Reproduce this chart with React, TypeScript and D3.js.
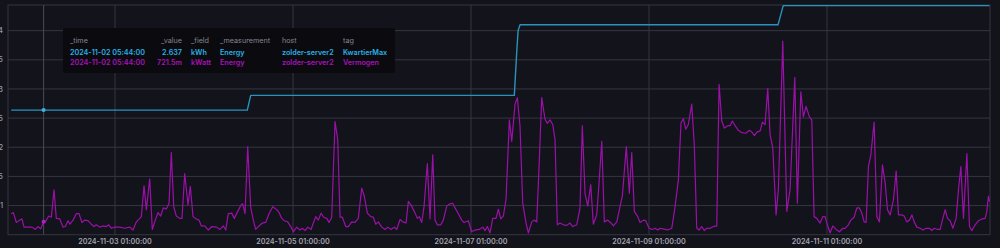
import React from "react";
import * as d3 from "d3";

// ---- Data (hours since 2024-11-01 21:00 UTC) ----
const START = Date.UTC(2024, 10, 1, 21, 0);

const kwartierHours = [0, 63.67, 64.59, 135.68, 136.3, 136.7, 137.22, 206.8, 208.2, 263.8];
const kwartierValues = [2.637, 2.637, 2.89, 2.89, 3.6, 4.0, 4.1, 4.1, 4.43, 4.43];

const vermogenHours = [
  0.0, 0.57, 1.38, 2.29, 2.91, 3.45, 4.53, 5.61, 6.5, 7.23, 7.96, 8.73, 9.2, 10.11, 10.81, 11.54, 12.16, 13.08, 13.97, 14.59,
  15.32, 15.86, 16.67, 17.56, 18.29, 19.09, 19.82, 20.71, 21.6, 22.33, 22.95, 23.87, 24.76, 25.65, 26.3, 27.0, 27.91, 29.26, 30.61, 31.96,
  32.85, 33.74, 34.66, 35.09, 35.82, 36.44, 37.35, 38.05, 38.86, 39.59, 40.32, 41.02, 41.83, 42.56, 43.18, 43.83, 44.53, 45.44, 46.06, 46.79,
  47.68, 48.3, 49.03, 49.92, 50.65, 51.27, 52.19, 53.16, 54.07, 55.42, 56.31, 57.2, 57.85, 58.55, 59.47, 60.17, 61.09, 61.98, 62.43, 63.06,
  63.78, 64.59, 65.29, 65.94, 66.83, 67.72, 68.64, 69.53, 70.53, 71.61, 72.23, 72.95, 73.66, 74.57, 75.46, 76.08, 77.0, 77.89, 78.51, 79.24,
  79.97, 80.86, 81.48, 82.12, 82.82, 83.55, 84.28, 85.09, 85.71, 86.44, 87.33, 88.06, 88.68, 89.3, 90.22, 90.92, 91.83, 92.72, 93.61, 94.53,
  95.23, 96.04, 96.96, 97.66, 98.31, 99.01, 99.93, 100.81, 101.54, 102.43, 103.32, 103.97, 104.86, 105.59, 106.48, 107.1, 108.02, 108.91, 109.53, 110.07,
  110.71, 111.33, 112.22, 112.95, 113.68, 114.3, 114.92, 115.84, 116.54, 117.45, 118.34, 119.07, 119.69, 120.58, 121.5, 122.12, 123.28, 124.19, 125.08, 126.24,
  127.16, 127.78, 128.41, 129.13, 129.86, 130.75, 131.37, 132.02, 132.72, 133.44, 134.34, 134.99, 135.88, 136.5, 137.22, 137.95, 138.84, 139.46, 140.38, 141.0,
  141.73, 142.43, 143.07, 143.96, 144.58, 145.31, 146.04, 146.66, 147.28, 148.01, 148.9, 149.81, 150.7, 151.43, 152.51, 153.4, 154.02, 154.75, 155.48, 156.29,
  156.99, 157.91, 158.5, 159.27, 159.96, 160.88, 161.77, 162.39, 163.31, 164.19, 164.81, 165.89, 166.7, 167.35, 168.05, 168.97, 169.59, 170.48, 171.13, 172.02,
  172.91, 173.63, 174.36, 174.98, 176.33, 177.06, 178.14, 179.03, 179.92, 180.64, 181.26, 181.91, 182.61, 183.53, 184.23, 184.88, 185.5, 186.23, 186.93, 187.58,
  188.47, 189.36, 190.28, 190.9, 191.63, 192.33, 193.25, 193.87, 194.49, 195.22, 196.11, 197.03, 198.11, 198.98, 199.74, 200.44, 201.09, 201.98, 202.57, 203.3,
  204.03, 204.65, 205.38, 206.27, 206.89, 208.08, 209.16, 210.05, 211.32, 212.02, 212.94, 213.64, 214.37, 215.26, 215.9, 216.52, 217.25, 218.14, 218.87, 219.49,
  220.11, 220.84, 221.57, 222.46, 223.35, 224.27, 224.89, 225.78, 226.43, 227.32, 228.05, 228.75, 229.4, 230.02, 230.56, 231.18, 231.83, 232.72, 233.45, 234.15,
  234.96, 235.69, 236.31, 237.04, 237.93, 238.66, 239.28, 240.2, 240.82, 241.51, 242.25, 242.9, 243.52, 244.25, 245.14, 245.86, 246.75, 247.64, 248.29, 248.91,
  249.8, 250.53, 251.26, 251.88, 252.5, 253.23, 253.95, 254.84, 255.46, 256.11, 256.81, 257.73, 258.43, 259.08, 259.97, 260.86, 261.77, 262.66, 263.11, 263.54,
  263.81,
];

const vermogenValues = [
  0.86, 0.88, 0.71, 0.75, 0.77, 0.63, 0.63, 0.63, 0.59, 0.64, 0.6, 0.7215, 0.72, 0.82, 0.8, 1.27, 0.78, 0.77, 0.63, 0.64,
  0.74, 0.68, 0.75, 0.86, 0.86, 0.71, 0.75, 0.74, 0.68, 0.64, 0.67, 0.63, 0.65, 0.64, 0.67, 0.61, 0.63, 0.63, 0.61, 0.63,
  0.58, 0.72, 0.78, 0.81, 1.34, 0.93, 1.46, 0.59, 0.75, 0.88, 0.82, 0.96, 0.94, 1.04, 1.91, 0.98, 0.82, 0.78, 0.78, 1.55,
  1.01, 1.33, 0.81, 0.77, 0.75, 0.65, 0.65, 0.58, 0.64, 0.63, 0.59, 0.65, 0.58, 0.86, 0.87, 0.78, 0.9, 1.01, 1.03, 0.86,
  2.01, 0.97, 0.75, 0.59, 0.65, 0.7, 0.71, 0.86, 0.98, 0.93, 0.88, 0.78, 0.74, 0.72, 0.63, 0.55, 0.63, 0.58, 0.61, 0.57,
  0.63, 0.59, 0.7, 0.81, 0.75, 0.87, 0.8, 0.78, 0.71, 0.8, 2.44, 2.13, 0.8, 0.8, 0.64, 0.64, 0.72, 0.71, 0.78, 1.3,
  1.16, 0.87, 0.81, 0.8, 0.68, 0.72, 0.63, 0.59, 0.63, 0.59, 0.63, 0.59, 0.76, 0.72, 0.7, 1.07, 0.99, 0.87, 0.78, 0.81,
  0.71, 0.98, 1.72, 0.77, 1.87, 0.75, 0.67, 0.67, 0.75, 0.99, 1.03, 1.04, 0.96, 0.86, 0.75, 0.71, 0.74, 0.55, 0.58, 0.59,
  0.63, 0.57, 0.64, 0.53, 0.78, 0.78, 0.94, 0.77, 0.82, 1.1, 2.47, 2.1, 2.74, 2.85, 2.36, 1.04, 0.7, 0.53, 0.72, 0.75,
  0.72, 1.79, 2.85, 2.48, 2.41, 2.47, 2.39, 2.13, 0.67, 0.7, 0.67, 0.66, 0.7, 0.64, 0.67, 0.96, 2.37, 1.21, 0.99, 1.36,
  0.68, 0.84, 1.36, 2.1, 0.72, 0.75, 0.7, 0.65, 0.72, 0.98, 1.16, 2.01, 1.21, 1.91, 0.9, 0.81, 0.71, 0.75, 0.74, 0.61,
  0.59, 0.61, 0.58, 0.61, 0.59, 0.58, 0.61, 0.98, 1.44, 2.42, 2.49, 2.31, 2.39, 2.74, 2.02, 0.61, 0.58, 0.64, 0.57, 0.61,
  0.61, 0.64, 0.65, 3.08, 2.45, 2.33, 2.37, 2.37, 2.45, 2.37, 2.29, 2.25, 2.24, 2.29, 2.26, 2.2, 2.26, 2.28, 2.43, 2.39,
  3.01, 2.22, 1.99, 0.84, 1.27, 3.82, 0.9, 1.27, 3.2, 1.04, 2.95, 2.52, 2.7, 2.52, 2.47, 0.81, 0.78, 0.7, 0.81, 0.81,
  0.67, 0.53, 0.65, 0.59, 0.55, 0.61, 0.61, 0.67, 0.75, 0.8, 0.96, 0.96, 0.87, 0.72, 0.71, 1.67, 1.87, 2.43, 0.81, 0.72,
  1.7, 1.39, 0.93, 0.84, 1.1, 1.59, 0.84, 0.84, 0.82, 0.72, 0.75, 0.84, 0.72, 0.63, 0.61, 0.58, 0.61, 0.61, 0.57, 0.61,
  0.59, 0.59, 0.78, 0.93, 0.78, 0.74, 0.61, 0.78, 1.27, 1.67, 0.78, 1.89, 0.64, 0.57, 0.67, 0.74, 0.77, 0.78, 0.9, 1.16,
  1.07,
];

const yTicks = [1, 1.5, 2, 2.5, 3, 3.5, 4];
const xTicks = [
  Date.UTC(2024, 10, 3, 1, 0),
  Date.UTC(2024, 10, 5, 1, 0),
  Date.UTC(2024, 10, 7, 1, 0),
  Date.UTC(2024, 10, 9, 1, 0),
  Date.UTC(2024, 10, 11, 1, 0),
];

const hoverTime = Date.UTC(2024, 10, 2, 5, 44);
const hoverKwartier = 2.637;
const hoverVermogen = 0.7215;

const tooltipHeaders = ["_time", "_value", "_field", "_measurement", "host", "tag"];
const tooltipRowKwartier = ["2024-11-02 05:44:00", "2.637", "kWh", "Energy", "zolder-server2", "KwartierMax"];
const tooltipRowVermogen = ["2024-11-02 05:44:00", "721.5m", "kWatt", "Energy", "zolder-server2", "Vermogen"];

// ---- Layout ----
const W = 1000;
const H = 248;
const left = 8;
const right = 990;
const top = 5;
const bottom = 234.7;

const BG = "#13131b";
const GRID = "#363642";
const TEAL = "#2a93bd";
const MAGENTA = "#9c10aa";

export default function App() {
  const x = d3
    .scaleUtc()
    .domain([new Date(Date.UTC(2024, 10, 1, 20, 8)), new Date(Date.UTC(2024, 10, 12, 20, 58))])
    .range([left, right]);
  const y = d3.scaleLinear().domain([0.5, 4.44]).range([bottom, top]);

  const toDate = (h: number) => new Date(START + h * 3600 * 1000);

  const line = d3
    .line<[number, number]>()
    .x((d) => x(toDate(d[0])))
    .y((d) => y(d[1]));

  const kwartier: [number, number][] = kwartierHours.map((h, i) => [h, kwartierValues[i]]);
  const vermogen: [number, number][] = vermogenHours.map((h, i) => [h, vermogenValues[i]]);

  const fmt = d3.utcFormat("%Y-%m-%d %H:%M:%S");
  const hx = x(new Date(hoverTime));

  // tooltip columns
  const tipX = 63;
  const tipY = 28;
  const colX = [70, 182, 191, 220, 282, 343];
  const colAnchor = ["start", "end", "start", "start", "start", "start"];
  const fs = 7.2;

  return (
    <div style={{ position: "absolute", left: 0, top: 0, width: W, height: H, overflow: "hidden" }}>
      <svg width={W} height={H} style={{ display: "block", fontFamily: "Inter, 'Noto Sans', sans-serif" }}>
        <rect x={0} y={0} width={W} height={H} fill={BG} />
        {/* horizontal grid */}
        {yTicks.map((t) => (
          <line key={"hy" + t} x1={left} x2={right} y1={y(t)} y2={y(t)} stroke={GRID} strokeWidth={1} />
        ))}
        {/* vertical grid */}
        {xTicks.map((t) => (
          <line key={"vx" + t} x1={x(new Date(t))} x2={x(new Date(t))} y1={top} y2={bottom} stroke={GRID} strokeWidth={1} />
        ))}
        {/* frame */}
        <rect x={left} y={top} width={right - left} height={bottom - top} fill="none" stroke={GRID} strokeWidth={1} />
        {/* crosshair */}
        <line x1={hx} x2={hx} y1={top} y2={bottom} stroke="#4a4a56" strokeWidth={1} />

        {/* y labels (clipped at left edge, as in the reference) */}
        {yTicks.map((t) => (
          <text key={"yl" + t} x={3} y={y(t)} dy="0.35em" textAnchor="end" fontSize={7.5} fill="#9a9aa6" fontWeight={500}>
            {String(t)}
          </text>
        ))}
        {/* x labels */}
        {xTicks.map((t) => (
          <text key={"xl" + t} x={x(new Date(t))} y={244} textAnchor="middle" fontSize={fs} fill="#a4a4ae" fontWeight={600}>
            {fmt(new Date(t))}
          </text>
        ))}

        <path d={line(vermogen) || ""} fill="none" stroke={MAGENTA} strokeWidth={1.2} strokeLinejoin="round" />
        <path d={line(kwartier) || ""} fill="none" stroke={TEAL} strokeWidth={1.4} strokeLinejoin="round" />

        <circle cx={hx} cy={y(hoverKwartier)} r={2} fill="#3ab4e6" />
        <circle cx={hx} cy={y(hoverVermogen)} r={2} fill="#b020c0" />

        {/* tooltip */}
        <rect x={tipX} y={tipY} width={332} height={45} fill="#0b0b0f" rx={2} />
        {tooltipHeaders.map((t, i) => (
          <text key={"th" + i} x={colX[i]} y={43} textAnchor={colAnchor[i]} fontSize={fs} fill="#85858f">
            {t}
          </text>
        ))}
        {tooltipRowKwartier.map((t, i) => (
          <text key={"tk" + i} x={colX[i]} y={55} textAnchor={colAnchor[i]} fontSize={fs} fontWeight={600} fill="#2cb0e4">
            {t}
          </text>
        ))}
        {tooltipRowVermogen.map((t, i) => (
          <text key={"tv" + i} x={colX[i]} y={64.5} textAnchor={colAnchor[i]} fontSize={fs} fontWeight={600} fill="#a812b8">
            {t}
          </text>
        ))}
      </svg>
    </div>
  );
}
